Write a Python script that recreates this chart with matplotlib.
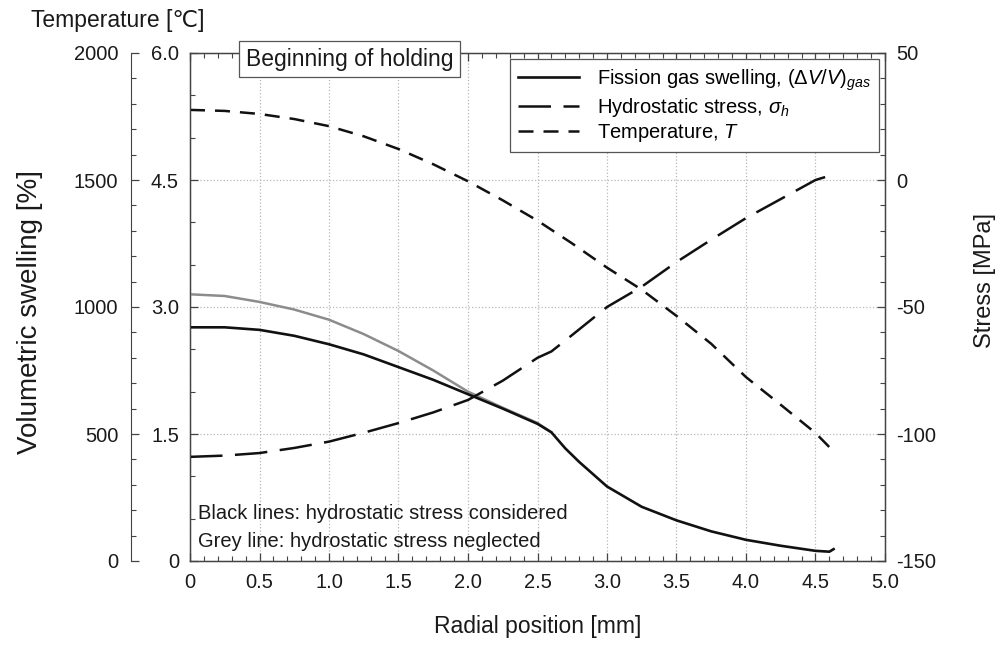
import matplotlib
matplotlib.use("Agg")
import matplotlib.pyplot as plt
from matplotlib.ticker import MultipleLocator

# fonts
plt.rcParams['font.family'] = ['Liberation Sans', 'DejaVu Sans']
plt.rcParams['mathtext.fontset'] = 'custom'
plt.rcParams['mathtext.rm'] = 'Liberation Sans'
plt.rcParams['mathtext.it'] = 'Liberation Sans:italic'
plt.rcParams['axes.unicode_minus'] = False

############################################################
#           DATA
############################################################

# fission gas swelling, hydrostatic stress considered [%]
r_swell = [0.0, 0.25, 0.5, 0.75, 1.0, 1.25, 1.5, 1.75, 2.0, 2.25, 2.5, 2.6,
           2.7, 2.8, 3.0, 3.25, 3.5, 3.75, 4.0, 4.25, 4.5, 4.6, 4.63]
swell = [2.76, 2.76, 2.73, 2.66, 2.56, 2.44, 2.29, 2.14, 1.97, 1.80, 1.62, 1.52,
         1.33, 1.17, 0.88, 0.64, 0.48, 0.35, 0.25, 0.18, 0.12, 0.11, 0.14]

# fission gas swelling, hydrostatic stress neglected [%]
r_grey = [0.0, 0.25, 0.5, 0.75, 1.0, 1.25, 1.5, 1.75, 2.0, 2.25, 2.5, 2.6]
swell_grey = [3.15, 3.13, 3.06, 2.97, 2.85, 2.68, 2.48, 2.25, 2.0, 1.81, 1.63, 1.52]

# hydrostatic stress [MPa]
r_stress = [0.0, 0.25, 0.5, 0.75, 1.0, 1.25, 1.5, 1.75, 2.0, 2.25, 2.5, 2.6,
            2.75, 3.0, 3.25, 3.5, 3.75, 4.0, 4.25, 4.5, 4.62]
stress = [-109, -108.5, -107.5, -105.5, -103, -99.5, -95.7, -91.5, -86.6, -79,
          -70, -67.5, -61, -50, -42, -32.3, -23.5, -15, -7.5, 0, 2]

# temperature [degC]
r_temp = [0.0, 0.25, 0.5, 0.75, 1.0, 1.25, 1.5, 1.75, 2.0, 2.25, 2.5, 2.75,
          3.0, 3.25, 3.5, 3.75, 4.0, 4.25, 4.5, 4.62]
temp = [1776, 1772, 1760, 1740, 1712, 1672, 1622, 1562, 1495, 1420, 1340, 1250,
        1155, 1068, 965, 855, 724, 615, 504, 437]

x_ticks = [0, 0.5, 1.0, 1.5, 2.0, 2.5, 3.0, 3.5, 4.0, 4.5, 5.0]
x_labels = ['0', '0.5', '1.0', '1.5', '2.0', '2.5', '3.0', '3.5', '4.0', '4.5', '5.0']
swell_ticks = [0, 1.5, 3.0, 4.5, 6.0]
swell_labels = ['0', '1.5', '3.0', '4.5', '6.0']

############################################################
#           PLOT
############################################################

W, H = 1007, 654
fig = plt.figure(figsize=(W / 100, H / 100), dpi=100)
ax = fig.add_axes([190 / W, 1 - 561 / H, 695 / W, 508 / H])
ax_T = ax.twinx()
ax_S = ax.twinx()

spine_col = '#444444'
txt_col = '#1a1a1a'
tick_kw = dict(direction='in', labelsize=14.5, colors=spine_col, labelcolor=txt_col)

# swelling (left axis)
ax.plot(r_grey, swell_grey, color='#8c8c8c', lw=1.8, zorder=3)
l_sw, = ax.plot(r_swell, swell, color='#111111', lw=1.9, zorder=4)
ax.set_xlim(0, 5.0)
ax.set_ylim(0, 6.0)
ax.set_xticks(x_ticks)
ax.set_xticklabels(x_labels)
ax.set_yticks(swell_ticks)
ax.set_yticklabels(swell_labels)
ax.xaxis.set_minor_locator(MultipleLocator(0.1))
ax.yaxis.set_minor_locator(MultipleLocator(0.5))
ax.tick_params(which='both', top=True, **tick_kw)
ax.tick_params(which='major', length=6, width=0.9)
ax.tick_params(which='minor', length=3.5, width=0.8)
ax.tick_params(axis='x', pad=9)
ax.tick_params(axis='y', pad=8)
ax.grid(True, which='major', linestyle=':', color='#b8b8b8', lw=0.9)
for s in ax.spines.values():
    s.set_color(spine_col)
    s.set_linewidth(1.0)

ax.set_xlabel('Radial position [mm]', fontsize=16.5, labelpad=16, color=txt_col)
ax.set_ylabel('Volumetric swelling [%]', fontsize=20, color=txt_col)
ax.yaxis.set_label_coords(-0.212, 0.49)

# temperature (separate left spine)
l_T, = ax_T.plot(r_temp, temp, color='#111111', lw=1.8, dashes=(6, 4))
ax_T.set_ylim(0, 2000)
ax_T.yaxis.set_ticks_position('left')
ax_T.yaxis.set_label_position('left')
ax_T.spines['left'].set_position(('outward', 42.5))
ax_T.spines['left'].set_visible(True)
ax_T.spines['left'].set_color(spine_col)
for k in ('right', 'top', 'bottom'):
    ax_T.spines[k].set_visible(False)
ax_T.yaxis.set_major_locator(MultipleLocator(500))
ax_T.yaxis.set_minor_locator(MultipleLocator(100))
ax_T.tick_params(which='both', **tick_kw)
ax_T.tick_params(which='major', length=6, width=0.9, pad=9)
ax_T.tick_params(which='minor', length=3.5, width=0.8)
fig.text(31 / W, 1 - 21 / H, 'Temperature [\u2103]', fontsize=16.5, va='center', ha='left',
         color=txt_col)

# hydrostatic stress (right axis)
l_S, = ax_S.plot(r_stress, stress, color='#111111', lw=1.8, dashes=(13, 5))
ax_S.set_ylim(-150, 50)
ax_S.yaxis.set_major_locator(MultipleLocator(50))
ax_S.yaxis.set_minor_locator(MultipleLocator(10))
ax_S.tick_params(which='both', **tick_kw)
ax_S.tick_params(which='major', length=6, width=0.9, pad=8)
ax_S.tick_params(which='minor', length=3.5, width=0.8)
for s in ax_S.spines.values():
    s.set_color(spine_col)
ax_S.set_ylabel('Stress [MPa]', fontsize=17, color=txt_col)
ax_S.yaxis.set_label_coords(1.128, 0.553)

# legend
leg = ax_S.legend([l_sw, l_S, l_T],
                  [r'Fission gas swelling, $(\Delta V/V)_{gas}$',
                   r'Hydrostatic stress, $\sigma_h$',
                   r'Temperature, $T$'],
                  loc='upper right', fontsize=14.5, handlelength=3.0, handletextpad=0.9,
                  borderaxespad=0.3, borderpad=0.4, labelspacing=0.15,
                  fancybox=False, framealpha=1, edgecolor='#555555')
leg.get_frame().set_linewidth(0.9)
leg.set_zorder(20)

# annotations
ax_S.text(0.23, 0.988, 'Beginning of holding', fontsize=16.5, ha='center', va='center',
          transform=ax_S.transAxes, clip_on=False, zorder=30, color=txt_col,
          bbox=dict(boxstyle='square,pad=0.3', fc='white', ec='#555555', lw=0.9))
ax.text(0.012, 0.093, 'Black lines: hydrostatic stress considered', transform=ax.transAxes,
        fontsize=14.5, va='center', color=txt_col)
ax.text(0.012, 0.039, 'Grey line: hydrostatic stress neglected', transform=ax.transAxes,
        fontsize=14.5, va='center', color=txt_col)

fig.savefig('out.png', dpi=100)
